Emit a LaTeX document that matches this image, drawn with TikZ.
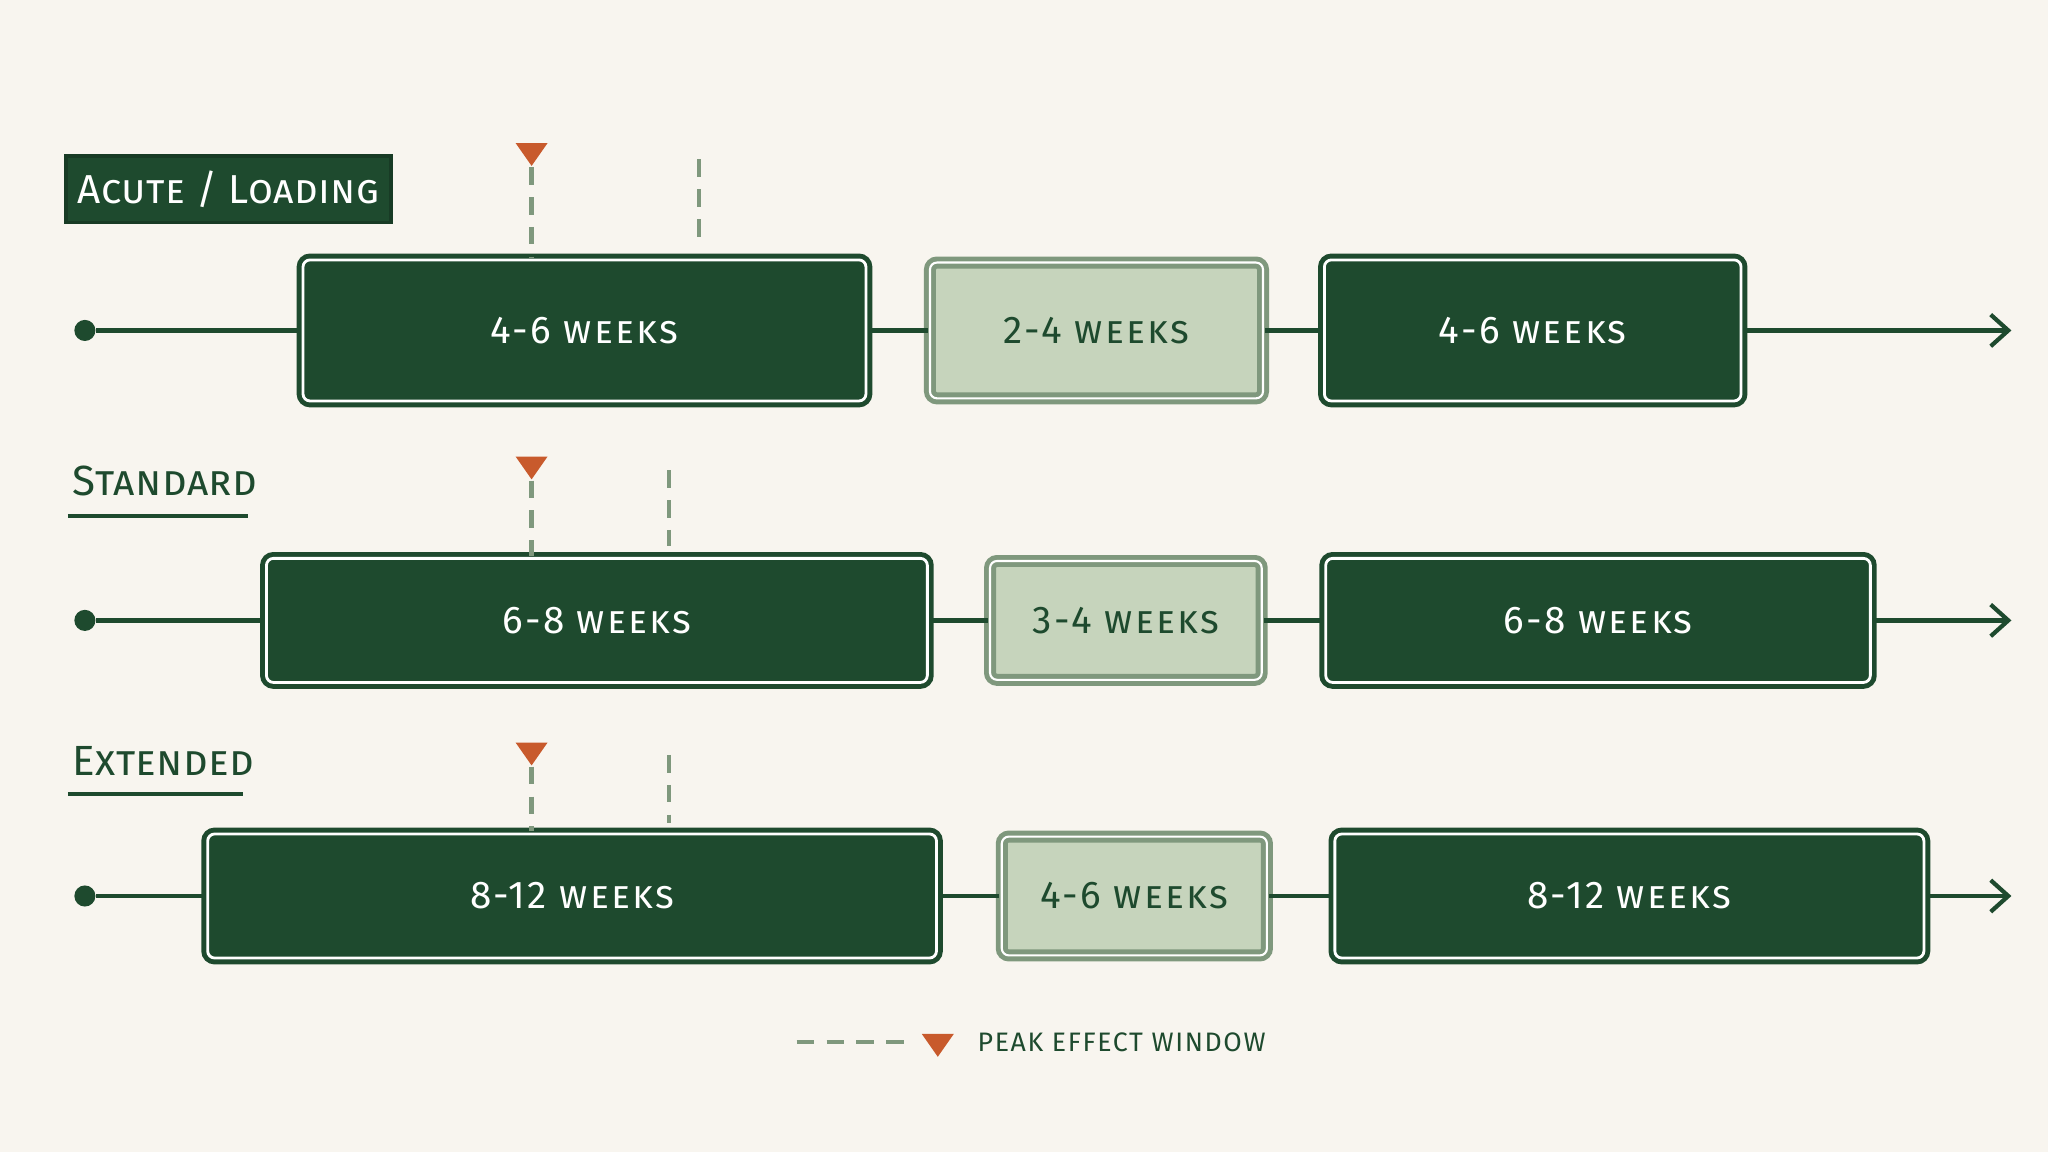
\documentclass[tikz,border=0pt]{standalone}
\usepackage{fontspec}
\setmainfont{Fira Sans}
\newfontfamily\trackedfont{Fira Sans}[LetterSpace=6]
\newfontfamily\labelfont{Fira Sans}[LetterSpace=1]
\usetikzlibrary{positioning, calc, shapes.geometric, arrows.meta}
\definecolor{bg}{HTML}{F8F5EF}
\definecolor{dark}{HTML}{1E4A2E}
\definecolor{light}{HTML}{C6D4BC}
\definecolor{peak}{HTML}{C85A2C}
\definecolor{windowgreen}{HTML}{7F987D}
\begin{document}
\begin{tikzpicture}[x=0.01306cm, y=-0.01306cm]
		\tikzset{
			phase/.style = {rectangle, line width=1.4pt, rounded corners=2pt, inner sep=0, font=\fontsize{11}{11}\trackedfont\scshape},
			on_phase/.style = {phase, draw=dark, fill=dark, text=white, double=white, double distance=0.8pt},
			off_phase/.style = {phase, draw=windowgreen, fill=light, text=dark, double=white, double distance=0.6pt},
			timeline/.style = {-{Straight Barb[length=5pt, width=9pt]}, line width=1.2pt, dark},
			dot/.style = {circle, fill=dark, inner sep=0, minimum size=6pt},
			peak_mark/.style = {isosceles triangle, shape border rotate=-90, isosceles triangle apex angle=70, fill=peak, inner sep=0, minimum height=6.5pt, minimum width=8pt},
			window/.style = {windowgreen, line width=1.2pt, dash pattern=on 5pt off 3.5pt},
			row_label/.style = {anchor=west, text=dark, inner sep=0, font=\fontsize{12}{12}\labelfont\scshape},
			underline/.style = {dark, line width=1.2pt}
		}
		\fill[bg] (0,0) rectangle (1568,882);

		% Rows: name, y, box edges, top, bottom, texts
		\foreach \r/\y/\ax/\bx/\cx/\dx/\ex/\fx/\top/\bot/\ta/\tb/\ua in {
				acute/253/232/663/712/967/1014/1333/198/306/4-6/2-4/4-6,
				standard/475/204/710/758/966/1015/1432/425/520/6-8/3-4/6-8,
				extended/686/159/717/767/970/1022/1473/636/731/8-12/4-6/8-12} {
				\node[dot](\r_start) at (65,\y) {};
				\coordinate (\r_end) at (1540,\y);
				\node[on_phase, minimum width={(\bx-\ax)*0.01306cm}, minimum height={(\bot-\top)*0.01306cm}](\r_load) at ({(\ax+\bx)/2},\y) {\ta{} weeks};
				\node[off_phase, minimum width={(\dx-\cx)*0.01306cm}, minimum height={(\bot-\top-4)*0.01306cm}](\r_break) at ({(\cx+\dx)/2},\y) {\tb{} weeks};
				\node[on_phase, minimum width={(\fx-\ex)*0.01306cm}, minimum height={(\bot-\top)*0.01306cm}](\r_cycle) at ({(\ex+\fx)/2},\y) {\ua{} weeks};
				\draw[timeline, -] (\r_start) -- (\r_load) (\r_load) -- (\r_break) (\r_break) -- (\r_cycle);
				\draw[timeline] (\r_cycle) -- (\r_end);
			};

		% Peak windows
		\node[peak_mark, anchor=north](acute_tri) at (407,109) {};
		\node[peak_mark, anchor=north](standard_tri) at (407,349) {};
		\node[peak_mark, anchor=north](extended_tri) at (407,568) {};
		\draw[window] (acute_tri.south) -- (acute_load.north -| acute_tri);
		\draw[window] (535,122) -- (535,190);
		\draw[window] (standard_tri.south) -- (standard_load.north -| standard_tri);
		\draw[window] (512,360) -- (512,418);
		\draw[window] (extended_tri.south) -- (extended_load.north -| extended_tri);
		\draw[window] (512,578) -- (512,630);

		% Labels
		\node[rectangle, fill=dark, draw=dark!80!black, line width=1pt, text=white, font=\fontsize{11.5}{11.5}\labelfont\scshape, minimum width={240*0.01306cm}, minimum height={51*0.01306cm}](acute_label) at (175,145) {Acute / Loading};
		\node[row_label](standard_label) at (55,368) {Standard};
		\draw[underline] (52,395) -- (190,395);
		\node[row_label](extended_label) at (55,583) {Extended};
		\draw[underline] (52,608) -- (186,608);

		% Legend
		\coordinate (legend_a) at (610,798);
		\coordinate (legend_b) at (693,798);
		\draw[window] (legend_a) -- (legend_b);
		\node[peak_mark](legend_tri) at (718,798) {};
		\node[anchor=west, text=dark, inner sep=0, font=\fontsize{7.6}{7.6}\trackedfont, right=8pt of legend_tri](legend_text) {PEAK EFFECT WINDOW};
\end{tikzpicture}
\end{document}
